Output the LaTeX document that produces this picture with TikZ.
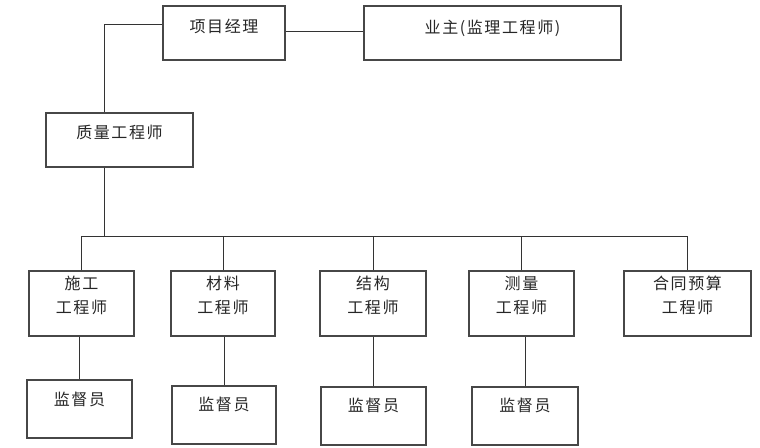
\documentclass[tikz,border=0pt]{standalone}
\usepackage{fontspec}
\setmainfont{Noto Sans CJK SC}[LetterSpace=10]
\begin{document}
\begin{tikzpicture}[x=1pt,y=-1pt,
  box/.style={draw=black!72,line width=1.2pt,rectangle,inner sep=0pt,fill=white},
  txt/.style={font=\fontsize{16}{24}\selectfont,text=black!85,align=center,inner sep=0pt,anchor=base},
  conn/.style={draw=black!80,line width=1pt}]
\useasboundingbox (0,0) rectangle (760,447);
% boxes
\node[box,minimum width=122pt,minimum height=54pt] (pm) at (224,33) {};
\node[box,minimum width=257pt,minimum height=54pt] (owner) at (492.5,33) {};
\node[box,minimum width=147pt,minimum height=54pt] (qe) at (119.5,140) {};
\node[box,minimum width=105pt,minimum height=65pt] (e1) at (81.5,303.5) {};
\node[box,minimum width=104pt,minimum height=65pt] (e2) at (223,303.5) {};
\node[box,minimum width=106pt,minimum height=65pt] (e3) at (373,303.5) {};
\node[box,minimum width=105pt,minimum height=65pt] (e4) at (521.5,303.5) {};
\node[box,minimum width=127pt,minimum height=65pt] (e5) at (687.5,303.5) {};
\node[box,minimum width=105pt,minimum height=58pt] (s1) at (79.5,409) {};
\node[box,minimum width=104pt,minimum height=58pt] (s2) at (224,415) {};
\node[box,minimum width=105pt,minimum height=58pt] (s3) at (373.5,416) {};
\node[box,minimum width=106pt,minimum height=58pt] (s4) at (525,416) {};
% texts
\node[txt] (tpm) at (224,32) {项目经理};
\node[txt] (towner) at (492.5,33) {业主(监理工程师)};
\node[txt] (tqe) at (119.5,138) {质量工程师};
\node[txt] (te1) at (81.5,313) {施工\\工程师};
\node[txt] (te2) at (223,313) {材料\\工程师};
\node[txt] (te3) at (373,313) {结构\\工程师};
\node[txt] (te4) at (521.5,313) {测量\\工程师};
\node[txt] (te5) at (687.5,313) {合同预算\\工程师};
\node[txt] (ts1) at (79.5,405) {监督员};
\node[txt] (ts2) at (224,410) {监督员};
\node[txt] (ts3) at (373.5,411) {监督员};
\node[txt] (ts4) at (525,411) {监督员};
% connectors
\coordinate (busL) at (81,236);
\coordinate (busR) at (687,236);
\draw[conn] ([yshift=9pt]pm.west) -| ([xshift=-15.5pt]qe.north);
\draw[conn] ([yshift=2pt]pm.east) -- ([yshift=2pt]owner.west);
\draw[conn] ([xshift=-15.5pt]qe.south) -- ([xshift=-15.5pt]qe.south |- busL);
\draw[conn] (busL) -- (busR);
\foreach \e in {e1,e2,e3,e4,e5}{\draw[conn] (\e.north) -- (\e.north |- busL);}
\draw[conn] (s1.north) -- (s1.north |- e1.south);
\draw[conn] (s2.north) -- (s2.north |- e2.south);
\draw[conn] (s3.north) -- (s3.north |- e3.south);
\draw[conn] (s4.north) -- (s4.north |- e4.south);
\end{tikzpicture}
\end{document}
